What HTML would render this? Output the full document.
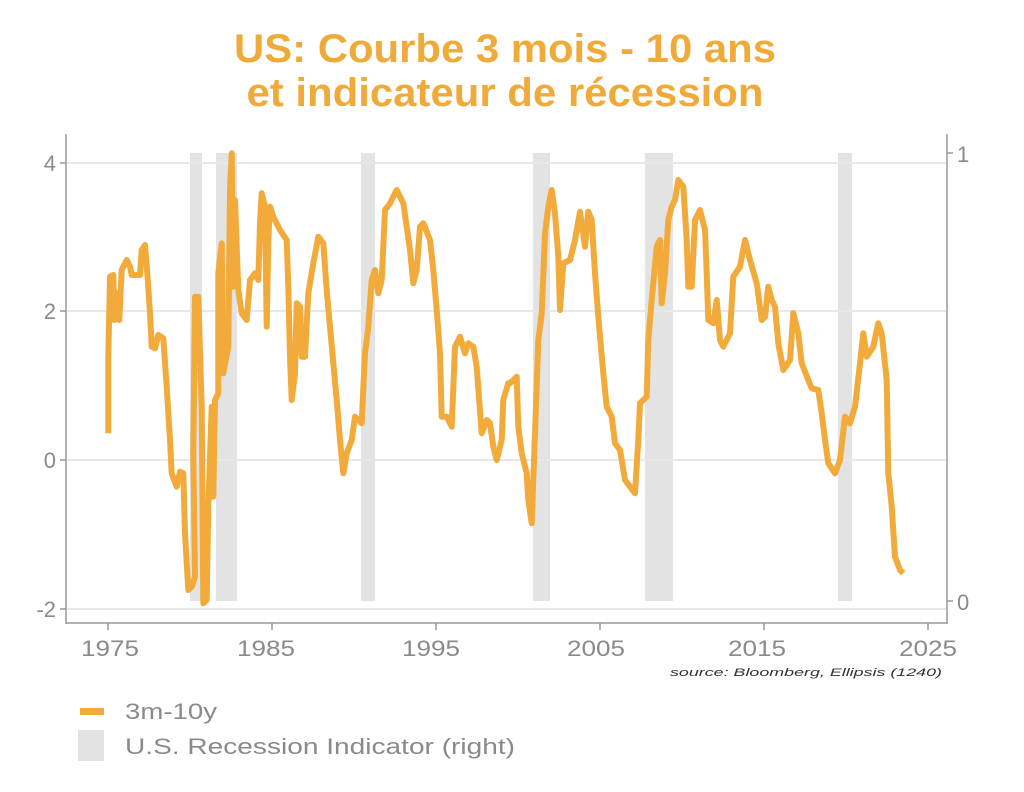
<!DOCTYPE html>
<html><head><meta charset="utf-8"><style>
html,body{margin:0;padding:0;background:#fff;}
svg{display:block;}
text{font-family:"Liberation Sans",sans-serif;}
</style></head><body>
<svg width="1024" height="792" viewBox="0 0 1024 792" xmlns="http://www.w3.org/2000/svg">
<text x="505" y="62" font-size="40" font-weight="bold" fill="#f0aa3a" text-anchor="middle" textLength="542" lengthAdjust="spacingAndGlyphs">US: Courbe 3 mois - 10 ans</text>
<text x="505" y="106" font-size="40" font-weight="bold" fill="#f0aa3a" text-anchor="middle" textLength="517" lengthAdjust="spacingAndGlyphs">et indicateur de récession</text>
<g fill="#e3e3e3">
<rect x="190" y="153" width="12" height="448"/>
<rect x="216" y="153" width="21" height="448"/>
<rect x="361" y="153" width="14" height="448"/>
<rect x="533" y="153" width="17" height="448"/>
<rect x="645" y="153" width="28" height="448"/>
<rect x="838" y="153" width="14" height="448"/>
</g>
<g stroke="#e8e8e8" stroke-width="2">
<line x1="67" y1="163" x2="946" y2="163"/>
<line x1="67" y1="311" x2="946" y2="311"/>
<line x1="67" y1="460" x2="946" y2="460"/>
<line x1="67" y1="609" x2="946" y2="609"/>
</g>
<g stroke="#999" stroke-width="1.5" fill="none">
<line x1="66" y1="134" x2="66" y2="624"/>
<line x1="947" y1="134" x2="947" y2="624"/>
<line x1="66" y1="623" x2="947" y2="623"/>
<line x1="60" y1="163" x2="66" y2="163"/><line x1="60" y1="311" x2="66" y2="311"/><line x1="60" y1="460" x2="66" y2="460"/><line x1="60" y1="609" x2="66" y2="609"/>
<line x1="947" y1="153" x2="953" y2="153"/><line x1="947" y1="601" x2="953" y2="601"/>
<line x1="108" y1="623" x2="108" y2="630"/><line x1="272" y1="623" x2="272" y2="630"/><line x1="436" y1="623" x2="436" y2="630"/><line x1="600" y1="623" x2="600" y2="630"/><line x1="764" y1="623" x2="764" y2="630"/><line x1="928" y1="623" x2="928" y2="630"/>
</g>
<g fill="#8a8a8a" font-size="22">
<text x="56" y="171" text-anchor="end">4</text>
<text x="56" y="319" text-anchor="end">2</text>
<text x="56" y="468" text-anchor="end">0</text>
<text x="56" y="617" text-anchor="end">-2</text>
<text x="957" y="162">1</text>
<text x="957" y="610">0</text>
<g text-anchor="middle">
<text x="110" y="656" textLength="58" lengthAdjust="spacingAndGlyphs">1975</text>
<text x="266" y="656" textLength="58" lengthAdjust="spacingAndGlyphs">1985</text>
<text x="431" y="656" textLength="58" lengthAdjust="spacingAndGlyphs">1995</text>
<text x="596" y="656" textLength="58" lengthAdjust="spacingAndGlyphs">2005</text>
<text x="757" y="656" textLength="58" lengthAdjust="spacingAndGlyphs">2015</text>
<text x="928" y="656" textLength="58" lengthAdjust="spacingAndGlyphs">2025</text>
</g>
<text x="125" y="719" textLength="92" lengthAdjust="spacingAndGlyphs">3m-10y</text>
<text x="125" y="754" textLength="390" lengthAdjust="spacingAndGlyphs">U.S. Recession Indicator (right)</text>
</g>
<text x="942" y="676" font-size="11" font-style="italic" fill="#333" text-anchor="end" textLength="272" lengthAdjust="spacingAndGlyphs">source: Bloomberg, Ellipsis (1240)</text>
<rect x="80" y="708" width="24" height="7" fill="#f2ab3b"/>
<rect x="78" y="730" width="26" height="31" fill="#e3e3e3"/>
<polyline fill="none" stroke="#f2ab3b" stroke-width="6" stroke-linejoin="round" points="108.3,433.3 108.3,356.7 110,276.7 113.3,275 114.3,320 116.7,293.3 119.3,320 121.7,270 126.7,260 130,266.7 131.7,275 140,275 141.7,250 145,245 147.3,273.3 150,313.3 151.7,346.7 155,348.3 158.3,335 163.3,338.3 166.7,386.7 170,440 171.7,473.3 176.7,486.7 180,471.7 183.3,473.3 185,533.3 188.3,590 191.7,586.7 195,576.7 193.3,453.3 195,296.7 198.3,296.7 201.7,406.7 203.3,603.3 206.7,600 208.3,506.7 211.7,406.7 213.3,496.7 215,400 218.3,393.3 218.3,273.3 221.7,243.3 223.3,373.3 228.3,346.7 230,190 231.7,153.3 233.3,286.7 235,200 238.3,290 241.7,313.3 246.7,320 250,280 255,273.3 258.3,280 260,223.3 261.7,193.3 265,206.7 266.7,326.7 268.3,240 270,206.7 273.3,216.7 280,230 286.7,240 288.3,286.7 290,356.7 291.7,400 295,373.3 296.7,303.3 300,306.7 301.7,356.7 305,356.7 308.3,293.3 313.3,263.3 318.3,236.7 323.3,243.3 326.7,290 330,326.7 336.7,400 340,440 343.3,473.3 346.7,453.3 351.7,440 355,416.7 361.7,423.3 365,353.3 368.3,326.7 371.7,280 375,270 378.3,293.3 381.7,280 385,210 390,203.3 396.7,190 403.3,203.3 406.7,226.7 410,250 413.3,283.3 416.7,270 420,226.7 423.3,223.3 430,240 433.3,270 436.7,310 440,353.3 441.7,416.7 446.7,416.7 451.7,426.7 455,346.7 460,336.7 465,353.3 468.3,343.3 473.3,346.7 476.7,366.7 481.7,433.3 486.7,420 490,423.3 493.3,446.7 496.7,460 501.7,440 503.3,400 508.3,383.3 510,383.3 516.7,376.7 518.3,426.7 521.7,453.3 526.7,473.3 528.3,500 531.7,523.3 535,433.3 538.3,340 541.7,313.3 545,233.3 548.3,206.7 551.7,190 555,213.3 558.3,256.7 560,310 563.3,263.3 570,260 575,240 580,211.7 585,246.7 588.3,211.7 591.7,220 595,273.3 598.3,316.7 603.3,373.3 606.7,406.7 611.7,416.7 615,443.3 620,450 625,480 630,486.7 635,493.3 638.3,440 640,403.3 646.7,396.7 648.3,340 651.7,300 656.7,246.7 660,240 661.7,303.3 665,273.3 668.3,220 671.7,206.7 675,200 678.3,180 683.3,186.7 686.7,240 688.3,286.7 691.7,286.7 695,220 700,210 705,230 706.7,273.3 708.3,320 713.3,323.3 716.7,300 720,340 723.3,346.7 730,333.3 733.3,276.7 740,266.7 745,240 750,260 756.7,283.3 761.7,320 765,316.7 768.3,286.7 771.7,300 775,306.7 778.3,343.3 783.3,370 790,360 793.3,313.3 798.3,333.3 801.7,363.3 808.3,380 811.7,388.3 818.3,390 821.7,413.3 825,440 828.3,463.3 835,473.3 840,460 845,416.7 850,423.3 855,406.7 860,363.3 863.3,333.3 866.7,356.7 873.3,346.7 878.3,323.3 881.7,333.3 886.7,380 888.3,473.3 891.7,506.7 895,556.7 900,570 903.3,573.3"/>
</svg>
</body></html>
